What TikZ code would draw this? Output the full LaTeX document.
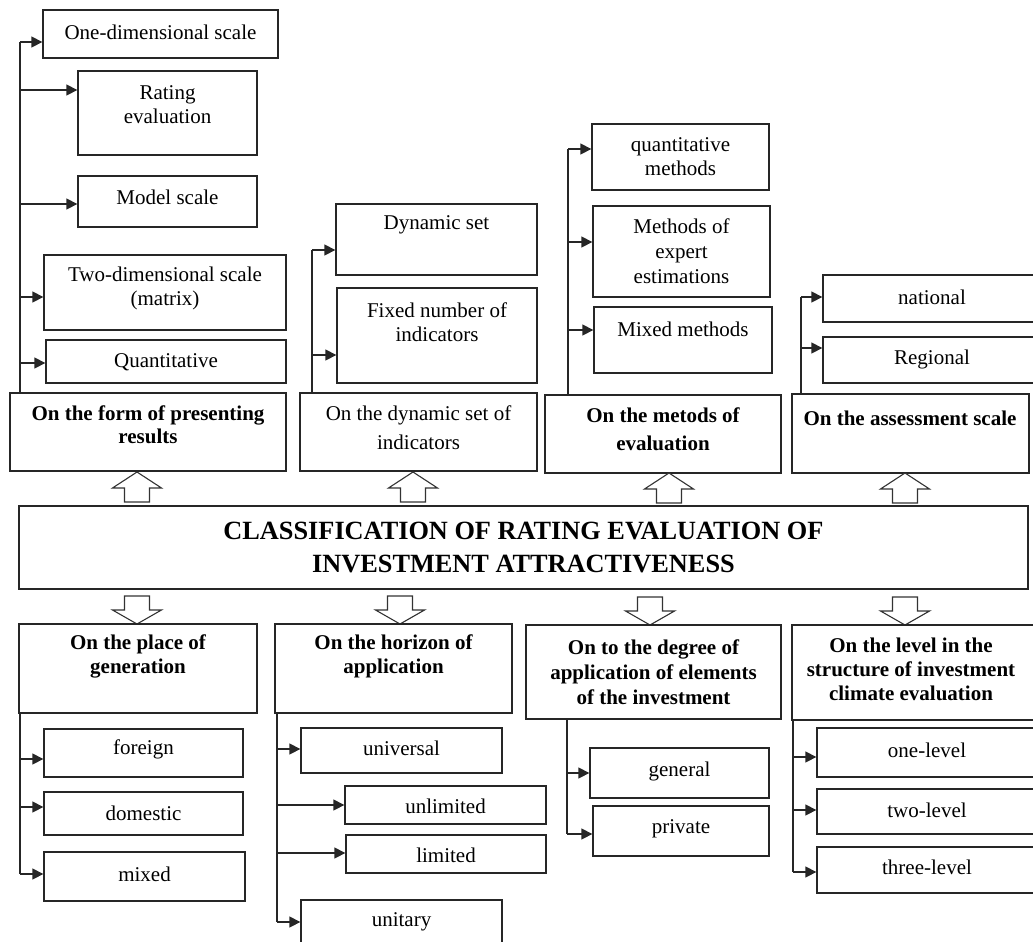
\documentclass[tikz,border=0pt]{standalone}
\usepackage{fontspec}
\setmainfont{Liberation Serif}
\usetikzlibrary{arrows.meta,fit,calc}
\tikzset{
  box/.style={draw=black!85, line width=1.3bp, inner sep=0pt},
  txt/.style={font=\fontsize{21bp}{24bp}\selectfont, align=center, inner sep=0pt},
  btxt/.style={font=\fontsize{21bp}{24bp}\selectfont\bfseries, align=center, inner sep=0pt},
  ttl/.style={font=\fontsize{26.3bp}{33bp}\selectfont\bfseries, align=center, inner sep=0pt},
  ln/.style={draw=black!85, line width=1.3bp},
  arr/.style={draw=black!85, line width=1.3bp, -{Triangle[length=11bp,width=11bp]}},
  hollow/.style={draw=black!80, line width=1.1bp, fill=white, line join=miter},
}
\newcommand{\upblock}[1]{\draw[hollow] (#1) -- ++(24.5,16) -- ++(-12,0) -- ++(0,14) -- ++(-25,0) -- ++(0,-14) -- ++(-12,0) -- cycle;}
\newcommand{\downblock}[1]{\draw[hollow] (#1) -- ++(24.5,-14) -- ++(-12,0) -- ++(0,-14) -- ++(-25,0) -- ++(0,14) -- ++(-12,0) -- cycle;}
\begin{document}
\begin{tikzpicture}[x=1bp,y=-1bp]
\useasboundingbox (0,0) rectangle (1033,942);

% ---------- group 1 (top): form of presenting results
\node[box, fit={(10,393) (286,471)}] (f0) {};
\node[btxt] (f0t) at (148,425) {On the form of presenting\\[-1bp]results};
\node[box, fit={(43,10) (278,58)}] (f1) {};
\node[txt] (f1t) at (160.5,32) {One-dimensional scale};
\node[box, fit={(78,71) (257,155)}] (f2) {};
\node[txt] (f2t) at (167.5,105) {Rating\\evaluation};
\node[box, fit={(78,176) (257,227)}] (f3) {};
\node[txt] (f3t) at (167.5,197) {Model scale};
\node[box, fit={(44,255) (286,330)}] (f4) {};
\node[txt] (f4t) at (165,288) {Two-dimensional scale\\(matrix)};
\node[box, fit={(46,340) (286,383)}] (f5) {};
\node[txt] (f5t) at (166,362) {Quantitative};
\coordinate (fa1) at (20,42);
\coordinate (fa2) at (20,90);
\coordinate (fa3) at (20,204);
\coordinate (fa4) at (20,297);
\coordinate (fa5) at (20,363);
\draw[ln] (f0.north -| fa1) -- (fa1);
\draw[arr] (fa1) -- (fa1 -| f1.west);
\draw[arr] (fa2) -- (fa2 -| f2.west);
\draw[arr] (fa3) -- (fa3 -| f3.west);
\draw[arr] (fa4) -- (fa4 -| f4.west);
\draw[arr] (fa5) -- (fa5 -| f5.west);

% ---------- group 2 (top): dynamic set of indicators
\node[box, fit={(300,393) (537,471)}] (d0) {};
\node[txt] (d0t) at (418.5,427.5) {On the dynamic set of\\[5bp]indicators};
\node[box, fit={(336,204) (537,275)}] (d1) {};
\node[txt] (d1t) at (436.5,225) {Dynamic set};
\node[box, fit={(337,288) (537,383)}] (d2) {};
\node[txt] (d2t) at (437,322) {Fixed number of\\indicators};
\coordinate (da1) at (312,250);
\coordinate (da2) at (312,355);
\draw[ln] (d0.north -| da1) -- (da1);
\draw[arr] (da1) -- (da1 -| d1.west);
\draw[arr] (da2) -- (da2 -| d2.west);

% ---------- group 3 (top): methods of evaluation
\node[box, fit={(545,395) (781,473)}] (m0) {};
\node[btxt] (m0t) at (663,429) {On the metods of\\[4bp]evaluation};
\node[box, fit={(592,124) (769,190)}] (m1) {};
\node[txt] (m1t) at (680.5,157) {quantitative\\methods};
\node[box, fit={(593,206) (770,297)}] (m2) {};
\node[txt] (m2t) at (681.5,251) {Methods of\\[1bp]expert\\[1bp]estimations};
\node[box, fit={(594,307) (772,373)}] (m3) {};
\node[txt] (m3t) at (683,329) {Mixed methods};
\coordinate (ma1) at (568,149);
\coordinate (ma2) at (568,242);
\coordinate (ma3) at (568,330);
\draw[ln] (m0.north -| ma1) -- (ma1);
\draw[arr] (ma1) -- (ma1 -| m1.west);
\draw[arr] (ma2) -- (ma2 -| m2.west);
\draw[arr] (ma3) -- (ma3 -| m3.west);

% ---------- group 4 (top): assessment scale
\node[box, fit={(792,394) (1029,473)}] (s0) {};
\node[btxt] (s0t) at (910,418) {On the assessment scale};
\node[box, fit={(823,275) (1045,322)}] (s1) {};
\node[txt] (s1t) at (932,297) {national};
\node[box, fit={(823,337) (1045,383)}] (s2) {};
\node[txt] (s2t) at (932,359) {Regional};
\coordinate (sa1) at (801,297);
\coordinate (sa2) at (801,348);
\draw[ln] (s0.north -| sa1) -- (sa1);
\draw[arr] (sa1) -- (sa1 -| s1.west);
\draw[arr] (sa2) -- (sa2 -| s2.west);

% ---------- centre
\node[box, fit={(19,506) (1028,589)}] (c) {};
\node[ttl] (ct) at (523.5,547) {CLASSIFICATION OF RATING EVALUATION OF\\INVESTMENT ATTRACTIVENESS};

\coordinate (u1) at (137,472);
\coordinate (u2) at (413,472);
\coordinate (u3) at (669,473);
\coordinate (u4) at (905,473);
\upblock{u1}\upblock{u2}\upblock{u3}\upblock{u4}
\coordinate (v1) at (137,624);
\coordinate (v2) at (400,624);
\coordinate (v3) at (650,625);
\coordinate (v4) at (905,625);
\downblock{v1}\downblock{v2}\downblock{v3}\downblock{v4}

% ---------- group 1 (bottom): place of generation
\node[box, fit={(19,624) (257,713)}] (p0) {};
\node[btxt] (p0t) at (138,656) {On the place of\\generation};
\node[box, fit={(44,729) (243,777)}] (p1) {};
\node[txt] (p1t) at (143.5,749) {foreign};
\node[box, fit={(44,792) (243,835)}] (p2) {};
\node[txt] (p2t) at (143.5,813) {domestic};
\node[box, fit={(44,852) (245,901)}] (p3) {};
\node[txt] (p3t) at (144.5,874) {mixed};
\coordinate (pa1) at (20,759);
\coordinate (pa2) at (20,807);
\coordinate (pa3) at (20,874);
\draw[ln] (p0.south -| pa3) -- (pa3);
\draw[arr] (pa1) -- (pa1 -| p1.west);
\draw[arr] (pa2) -- (pa2 -| p2.west);
\draw[arr] (pa3) -- (pa3 -| p3.west);

% ---------- group 2 (bottom): horizon of application
\node[box, fit={(275,624) (512,713)}] (h0) {};
\node[btxt] (h0t) at (393.5,656) {On the horizon of\\application};
\node[box, fit={(301,728) (502,773)}] (h1) {};
\node[txt] (h1t) at (401.5,748) {universal};
\node[box, fit={(345,786) (546,824)}] (h2) {};
\node[txt] (h2t) at (445.5,806) {unlimited};
\node[box, fit={(346,835) (546,873)}] (h3) {};
\node[txt] (h3t) at (446,855) {limited};
\node[box, fit={(301,900) (502,960)}] (h4) {};
\node[txt] (h4t) at (401.5,922) {unitary};
\coordinate (ha1) at (277,749);
\coordinate (ha2) at (277,805);
\coordinate (ha3) at (277,853);
\coordinate (ha4) at (277,922);
\draw[ln] (h0.south -| ha4) -- (ha4);
\draw[arr] (ha1) -- (ha1 -| h1.west);
\draw[arr] (ha2) -- (ha2 -| h2.west);
\draw[arr] (ha3) -- (ha3 -| h3.west);
\draw[arr] (ha4) -- (ha4 -| h4.west);

% ---------- group 3 (bottom): degree of application
\node[box, fit={(526,625) (781,719)}] (g0) {};
\node[btxt] (g0t) at (653.5,672) {On to the degree of\\[1bp]application of elements\\[1bp]of the investment};
\node[box, fit={(590,748) (769,798)}] (g1) {};
\node[txt] (g1t) at (679.5,771) {general};
\node[box, fit={(593,806) (769,856)}] (g2) {};
\node[txt] (g2t) at (681,829) {private};
\coordinate (ga1) at (567,773);
\coordinate (ga2) at (567,834);
\draw[ln] (g0.south -| ga2) -- (ga2);
\draw[arr] (ga1) -- (ga1 -| g1.west);
\draw[arr] (ga2) -- (ga2 -| g2.west);

% ---------- group 4 (bottom): level in structure
\node[box, fit={(792,625) (1045,720)}] (l0) {};
\node[btxt] (l0t) at (911,669) {On the level in the\\structure of investment\\climate evaluation};
\node[box, fit={(817,728) (1045,777)}] (l1) {};
\node[txt] (l1t) at (927,750) {one-level};
\node[box, fit={(817,789) (1045,834)}] (l2) {};
\node[txt] (l2t) at (927,810) {two-level};
\node[box, fit={(817,847) (1045,893)}] (l3) {};
\node[txt] (l3t) at (927,867) {three-level};
\coordinate (la1) at (793,757);
\coordinate (la2) at (793,810);
\coordinate (la3) at (793,872);
\draw[ln] (l0.south -| la3) -- (la3);
\draw[arr] (la1) -- (la1 -| l1.west);
\draw[arr] (la2) -- (la2 -| l2.west);
\draw[arr] (la3) -- (la3 -| l3.west);
\end{tikzpicture}
\end{document}
